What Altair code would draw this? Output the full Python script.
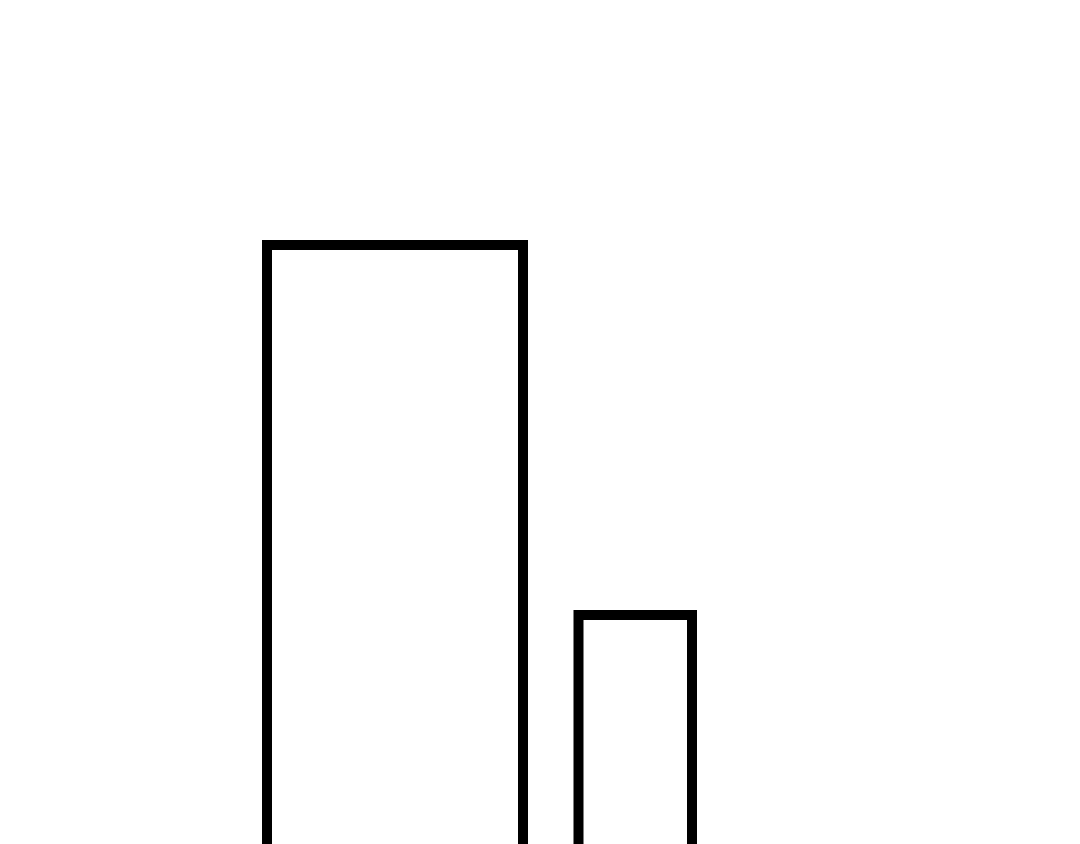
import altair as alt
import pandas as pd

# Data (two outlined bars, no axes shown)
bin_start = [5.18, 11.41]
bin_end = [10.30, 13.68]
values = [20, 10]
baseline = [0, 0]

df = pd.DataFrame({"start": bin_start, "end": bin_end, "value": values, "base": baseline})

chart = (
    alt.Chart(df)
    .mark_rect(fill="white", stroke="black", strokeWidth=10, strokeJoin="miter")
    .encode(
        x=alt.X("start:Q", scale=alt.Scale(domain=[0, 20], nice=False), axis=None),
        x2="end:Q",
        y=alt.Y("value:Q", scale=alt.Scale(domain=[0, 26.405], nice=False), axis=None),
        y2="base:Q",
    )
    .properties(width=1000, height=977, padding=0, autosize=alt.AutoSizeParams(type="none"))
    .configure_view(strokeWidth=0)
)

chart.save("out.html", embed_options={"renderer": "svg", "actions": False})
